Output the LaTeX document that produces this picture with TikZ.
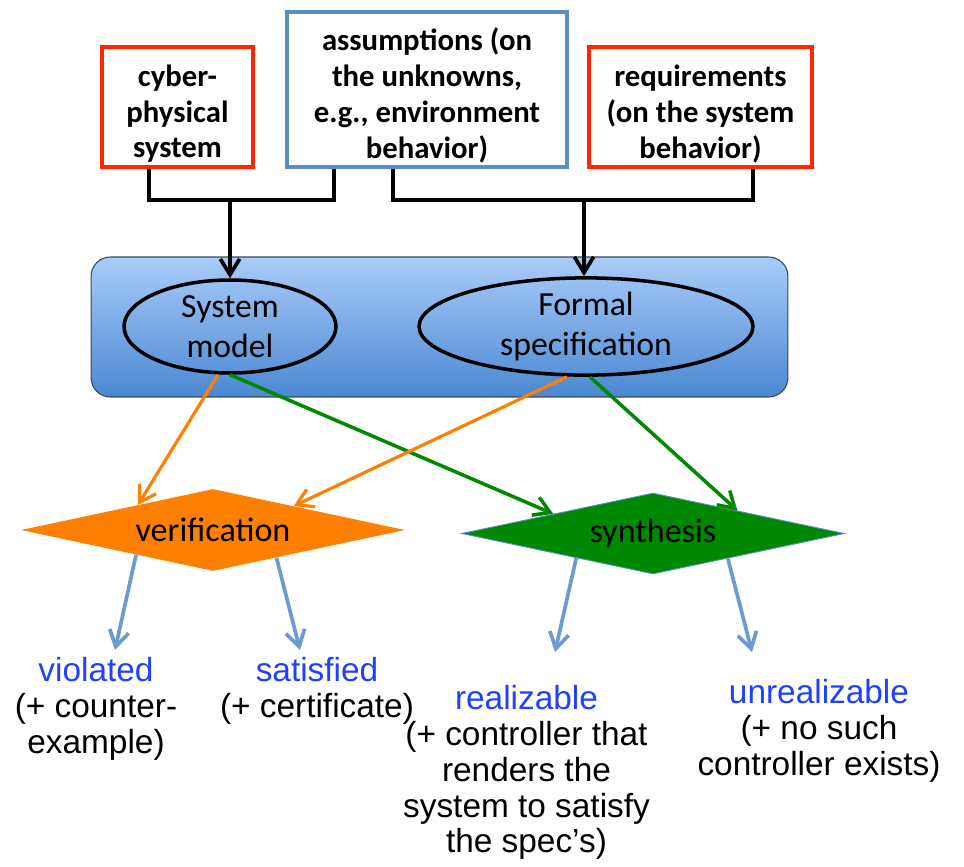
\documentclass[tikz,border=0pt]{standalone}
\usepackage{fontspec}
\setmainfont{Carlito}
\newfontfamily\arialfont{Liberation Sans}
\usetikzlibrary{arrows.meta, positioning, shapes.geometric, calc}
\definecolor{cpsred}{HTML}{FF2600}
\definecolor{asmblue}{HTML}{5A8DC8}
\definecolor{paneltop}{HTML}{A9CCF8}
\definecolor{panelbot}{HTML}{4A88D2}
\definecolor{panelrim}{HTML}{3A4656}
\definecolor{verorange}{HTML}{FF7F00}
\definecolor{syngreen}{HTML}{008800}
\definecolor{outblue}{HTML}{6C9BD2}
\definecolor{resblue}{HTML}{2040FF}
\newcommand{\topgap}{\rule{0pt}{20pt}}

\begin{document}
\begin{tikzpicture}[x=0.02cm, y=-0.02cm, every node/.style={inner sep=0pt},
  inbox/.style={draw, line width=1.8pt, align=center, font=\fontsize{17.5}{20.4}\selectfont\bfseries},
  oval/.style={ellipse, draw, line width=2pt, align=center, font=\fontsize{19.2}{22.7}\selectfont},
  check/.style={diamond, aspect=4.7, align=center, font=\fontsize{19.4}{22}\selectfont},
  outc/.style={anchor=north, align=center, font=\arialfont\fontsize{19}{20.4}\selectfont},
  link/.style={line width=2.1pt},
  arr/.style={link, -{Straight Barb[length=9pt,width=11pt]}},
  oarr/.style={verorange, line width=1.8pt, -{Straight Barb[length=9pt,width=11pt]}},
  garr/.style={syngreen, line width=2pt, -{Straight Barb[length=9pt,width=11pt]}},
  barr/.style={outblue, line width=2.1pt, -{Straight Barb[length=9pt,width=11pt]}}]
\useasboundingbox (0,0) rectangle (964,866);
% inputs
\node[inbox, draw=cpsred, minimum width=3.02cm, minimum height=2.4cm] (cps) at (177.5,107) {\topgap cyber-\\physical\\system};
\node[inbox, draw=asmblue, minimum width=5.6cm, minimum height=3.1cm] (asm) at (427,89.5) {\topgap assumptions (on\\the unknowns,\\e.g., environment\\behavior)};
\node[inbox, draw=cpsred, minimum width=4.46cm, minimum height=2.4cm] (req) at (700.5,107) {\topgap requirements\\(on the system\\behavior)};
% model panel
\node[rectangle, rounded corners=11pt, draw=panelrim, line width=0.6pt, top color=paneltop, bottom color=panelbot,
  minimum width=13.94cm, minimum height=2.8cm] (panel) at (439.5,327) {};
\node[oval, minimum width=4.24cm, minimum height=1.86cm] (sysm) at (230,326.5) {System\\model};
\node[oval, minimum width=6.68cm, minimum height=1.9cm] (formal) at (586,326.5) {Formal\\specification};
% joins into the panel
\coordinate (jl) at (230,200);
\coordinate (jr) at (584,200);
\draw[link] ($(cps.south)+(-28.5,0)$) |- (jl) -| ($(asm.south)+(-93,0)$);
\draw[link] ($(asm.south)+(-34,0)$) |- (jr) -| ($(req.south)+(52.5,0)$);
\draw[arr] (jl) -- (sysm.north);
\draw[arr] (jr) -- (jr |- formal.north);
% the two checks
\node[check, fill=verorange, minimum width=7.68cm, minimum height=1.64cm] (verif) at (213,530) {verification};
\node[check, fill=syngreen, draw=asmblue, line width=0.5pt, minimum width=7.66cm, minimum height=1.62cm] (synth) at (653,533.5) {synthesis};
\draw[oarr] ($(sysm.south)+(-12,0)$) -- ($(verif.west)!0.61!(verif.north)$);
\draw[garr] (sysm.south) -- ($(synth.west)!0.48!(synth.north)$);
\draw[oarr] ($(formal.south)+(-19,0)$) -- ($(verif.north)!0.42!(verif.east)$);
\draw[garr] ($(formal.south)+(4,0)$) -- ($(synth.north)!0.44!(synth.east)$);
% outcomes
\node[outc] (viol) at (96,657) {\textcolor{resblue}{violated}\\(+ counter-\\example)};
\node[outc] (sat) at (317,657) {\textcolor{resblue}{satisfied}\\(+ certificate)};
\node[outc] (real) at (526.5,685) {\textcolor{resblue}{realizable}\\(+ controller that\\renders the\\system to satisfy\\the spec’s)};
\node[outc] (unreal) at (819,679) {\textcolor{resblue}{unrealizable}\\(+ no such\\controller exists)};
\draw[barr] ($(verif.west)!0.6!(verif.south)$) -- ($(viol.north)+(19,-7)$);
\draw[barr] ($(verif.south)!0.33!(verif.east)$) -- ($(sat.north)+(-17,-7)$);
\draw[barr] ($(synth.west)!0.6!(synth.south)$) -- ($(real.north)+(28.5,-33)$);
\draw[barr] ($(synth.south)!0.39!(synth.east)$) -- ($(unreal.north)+(-67,-27)$);
\end{tikzpicture}
\end{document}
